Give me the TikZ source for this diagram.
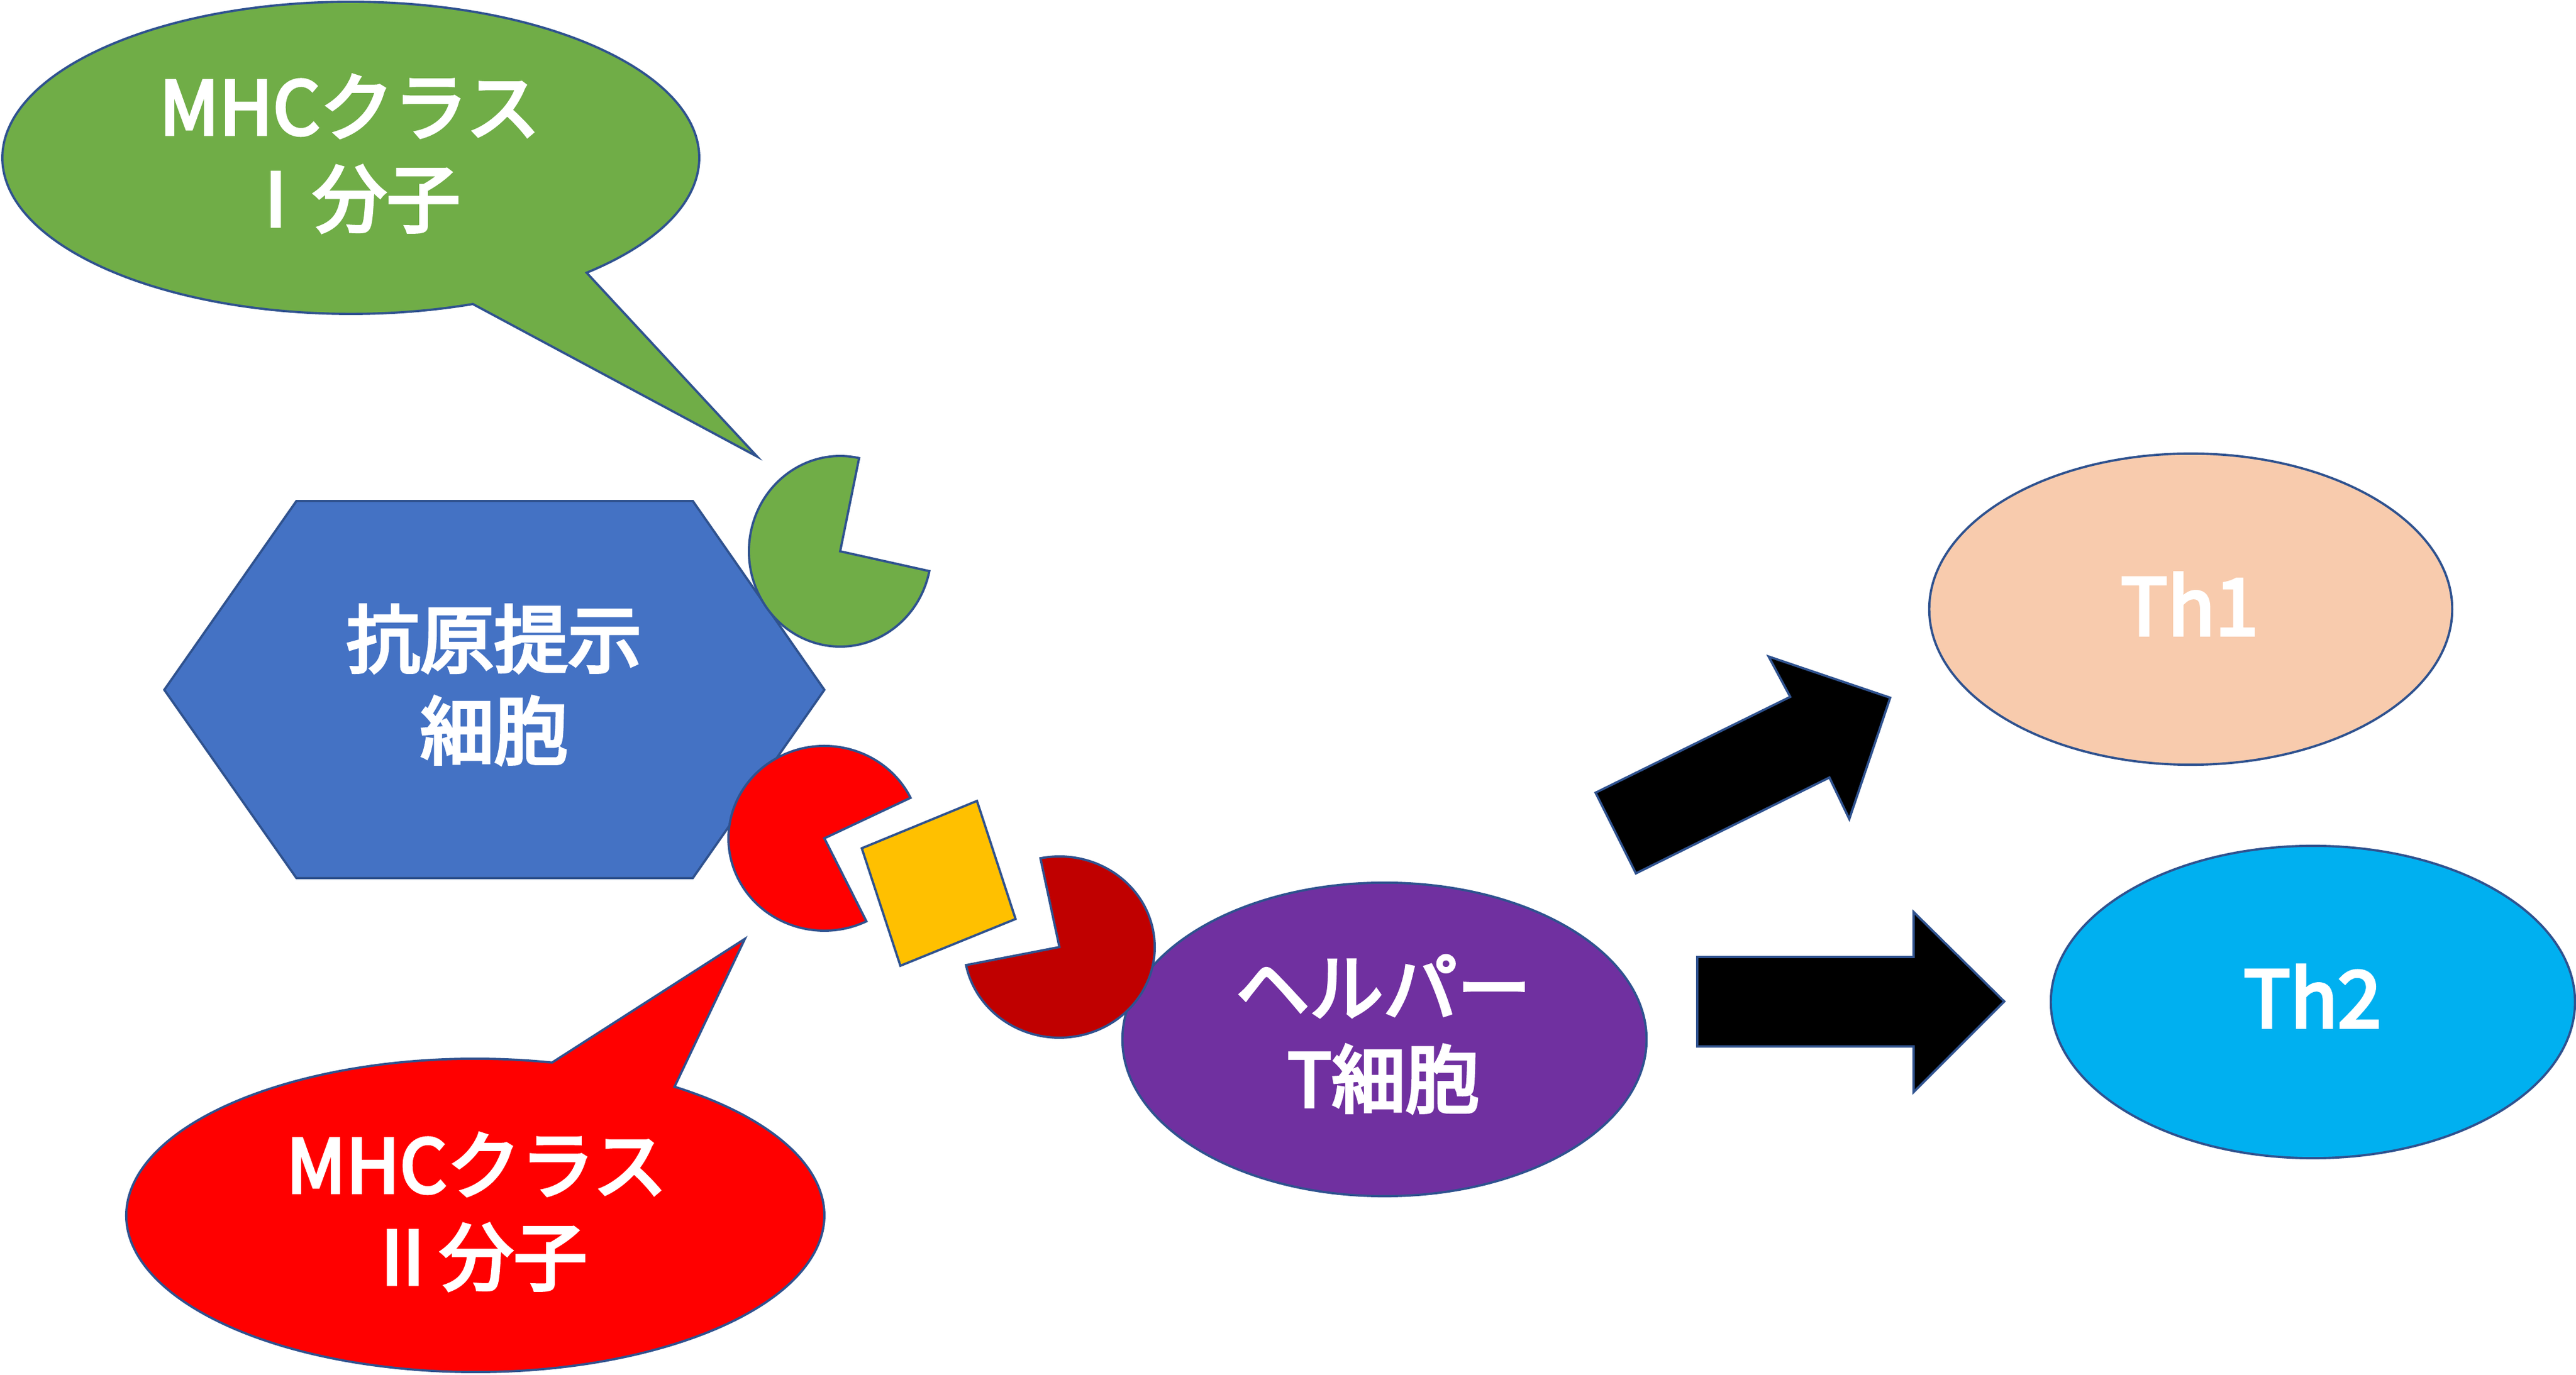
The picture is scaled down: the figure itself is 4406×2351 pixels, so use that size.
\documentclass[tikz,border=0pt]{standalone}
\usepackage{fontspec}
\setmainfont{Noto Sans CJK JP}
\newfontfamily\medfont{Noto Sans CJK JP}[FakeBold=4]
\usetikzlibrary{shapes.geometric}
\definecolor{olc}{HTML}{2F528F}
\definecolor{cgreen}{HTML}{70AD47}
\definecolor{cblue}{HTML}{4472C4}
\definecolor{cred}{HTML}{FF0000}
\definecolor{cdred}{HTML}{C00000}
\definecolor{cyel}{HTML}{FFC000}
\definecolor{cpurp}{HTML}{7030A0}
\definecolor{cpeach}{HTML}{F8CBAD}
\definecolor{ccyan}{HTML}{00B0F0}
\tikzset{
  shp/.style={draw=olc, line width=1.1pt, line join=miter},
  lbl/.style={text=white, align=center, inner sep=0pt, font=\medfont\fontsize{35.9}{44.6}\selectfont},
  thlbl/.style={text=white, inner sep=0pt, font=\medfont\fontsize{38}{44}\selectfont},
  cell/.style={shp, ellipse, inner sep=0pt},
}
\begin{document}
\begin{tikzpicture}[x=0.01cm,y=0.01cm]
\useasboundingbox (0,0) rectangle (4406,2351);
% green speech bubble
\draw[shp, fill=cgreen] (600,2081) ++(-47.4:596 and 267)
  arc[start angle=-47.4, end angle=290.5, x radius=596, y radius=267]
  -- (1295,1570) -- cycle;
\node[lbl] (mhc1) at (598,2088) {MHCクラス\\Ⅰ分子};
% red speech bubble
\draw[shp, fill=cred] (813,272) ++(77.3:597 and 268)
  arc[start angle=77.3, end angle=415.2, x radius=597, y radius=268]
  -- (1274,745) -- cycle;
\node[lbl] (mhc2) at (815,278) {MHCクラス\\Ⅱ分子};
% hexagon
\draw[shp, fill=cblue] (281,1171) -- (507,1494) -- (1185,1494) -- (1410,1171)
  -- (1185,849) -- (507,849) -- cycle;
\node[lbl] (apc) at (845,1180) {抗原提示\\細胞};
% green pacman
\draw[shp, fill=cgreen] (1437,1408) -- (1469.4,1567.4)
  arc[start angle=78, end angle=348, x radius=156, y radius=163] -- cycle;
% red pacman
\draw[shp, fill=cred] (1410,917) -- (1557.4,986.3)
  arc[start angle=26, end angle=296, x radius=164, y radius=158] -- cycle;
% antigen square
\draw[shp, fill=cyel] (1474,900) -- (1671,981) -- (1737,779) -- (1540,699) -- cycle;
% helper T cell
\node[cell, fill=cpurp, minimum width=8.96cm, minimum height=5.36cm] (th) at (2368,573) {};
% dark red pacman (TCR)
\draw[shp, fill=cdred] (1812,731) -- (1652.3,700.1)
  arc[start angle=191.5, end angle=461.5, x radius=163, y radius=155] -- cycle;
\node[lbl] (thl) at (2366,582) {ヘルパー\\T細胞};
% arrows
\draw[shp, fill=black] (2798,857) -- (2729,995) -- (3062,1159) -- (3025,1228)
  -- (3233,1157.5) -- (3163,950) -- (3129,1021) -- cycle;
\draw[shp, fill=black] (2903,714) -- (3273,714) -- (3273,791) -- (3428,638)
  -- (3273,483) -- (3273,561) -- (2903,561) -- cycle;
% Th1 / Th2
\node[cell, fill=cpeach, minimum width=8.94cm, minimum height=5.32cm] (th1) at (3747,1309) {};
\node[thlbl] (th1l) at (3745,1318) {Th1};
\node[cell, fill=ccyan, minimum width=8.96cm, minimum height=5.34cm] (th2) at (3956,637) {};
\node[thlbl] (th2l) at (3955,647) {Th2};
\end{tikzpicture}
\end{document}
